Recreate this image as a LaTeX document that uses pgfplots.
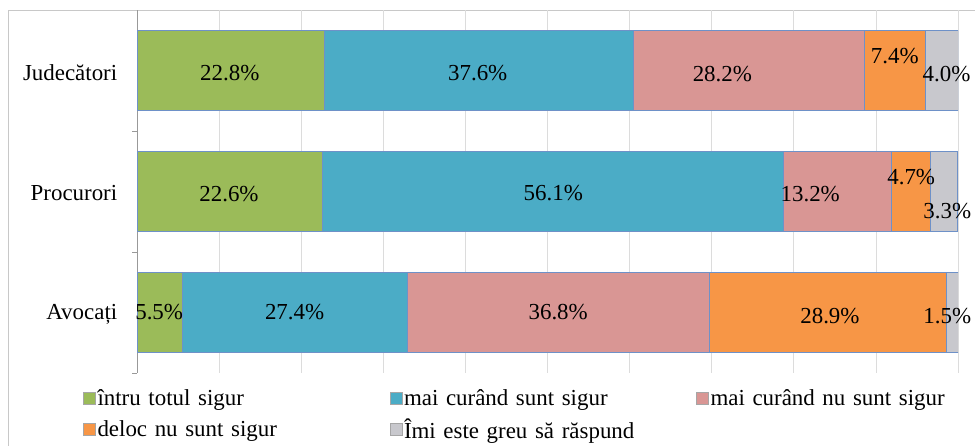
\documentclass[border=0pt]{standalone}
\usepackage{pgfplots}
\pgfplotsset{compat=1.18}
\usepackage{fontspec}
\setmainfont{Liberation Serif}
\definecolor{cgreen}{RGB}{155,187,89}
\definecolor{cblue}{RGB}{75,172,198}
\definecolor{cpink}{RGB}{217,150,148}
\definecolor{corange}{RGB}{247,150,70}
\definecolor{cgray}{RGB}{200,200,205}
\definecolor{cedge}{RGB}{110,145,200}
\definecolor{cgrid}{RGB}{220,220,220}
\definecolor{cframe}{RGB}{200,200,200}
\begin{document}
\begin{tikzpicture}[font=\fontsize{23}{26}\selectfont]
\useasboundingbox (0,0) rectangle (975bp,446bp);
\draw[cframe, line width=0.8bp] (8bp,-30bp) rectangle (1000bp,436bp);
\begin{axis}[
  at={(137bp,73bp)}, anchor=south west,
  scale only axis, width=821bp, height=363bp,
  xbar stacked, bar width=0.66,
  xmin=0, xmax=100, ymin=-0.5, ymax=2.5, y dir=reverse,
  axis lines*=left,
  x axis line style={draw=none},
  y axis line style={draw=gray!80, line width=0.6bp},
  xtick={0,10,...,100}, xticklabels={},
  major x tick style={draw=none},
  xmajorgrids, major grid style={draw=cgrid, line width=0.8bp},
  ytick={0,1,2},
  yticklabels={Judecători,Procurori,Avocați},
  major y tick style={draw=none},
  minor ytick={0.5,1.5,2.5},
  minor y tick style={draw=gray!80, line width=0.6bp},
  minor tick length=5bp,
  tick align=outside,
  yticklabel style={xshift=-12bp, yshift=-2bp},
  every axis plot/.append style={draw=cedge, line width=0.6bp},
  legend columns=3,
  legend cell align=left,
  legend style={draw=none, fill=none, at={(axis description cs:-0.066,-0.04)}, anchor=north west,
    inner sep=0pt, row sep=8bp,
    /tikz/every even column/.append style={text width=290bp, align=left},
    nodes={inner sep=2bp}},
  legend image code/.code={\draw[#1, draw=gray!70, line width=0.5bp] (0bp,-6bp) rectangle (12bp,6bp);},
]
\addplot[fill=cgreen] coordinates {(22.8,0) (22.6,1) (5.5,2)};
\addplot[fill=cblue] coordinates {(37.6,0) (56.1,1) (27.4,2)};
\addplot[fill=cpink] coordinates {(28.2,0) (13.2,1) (36.8,2)};
\addplot[fill=corange] coordinates {(7.4,0) (4.7,1) (28.9,2)};
\addplot[fill=cgray] coordinates {(4.0,0) (3.3,1) (1.5,2)};
\legend{întru totul sigur, mai curând sunt sigur, mai curând nu sunt sigur, deloc nu sunt sigur, Îmi este greu să răspund}
\coordinate (a1) at (axis cs:11.3,0.02);
\coordinate (a2) at (axis cs:41.5,0.02);
\coordinate (a3) at (axis cs:71.3,0.03);
\coordinate (a4) at (axis cs:92.3,-0.12);
\coordinate (a5) at (axis cs:98.6,0.03);
\coordinate (b1) at (axis cs:11.2,1.02);
\coordinate (b2) at (axis cs:50.7,1.01);
\coordinate (b3) at (axis cs:82.0,1.02);
\coordinate (b4) at (axis cs:94.3,0.88);
\coordinate (b5) at (axis cs:98.7,1.16);
\coordinate (c1) at (axis cs:2.7,2.0);
\coordinate (c2) at (axis cs:19.2,2.0);
\coordinate (c3) at (axis cs:51.3,2.0);
\coordinate (c4) at (axis cs:84.4,2.03);
\coordinate (c5) at (axis cs:98.7,2.03);
\end{axis}
\node at (a1) {22.8\%};
\node at (a2) {37.6\%};
\node at (a3) {28.2\%};
\node at (a4) {7.4\%};
\node at (a5) {4.0\%};
\node at (b1) {22.6\%};
\node at (b2) {56.1\%};
\node at (b3) {13.2\%};
\node at (b4) {4.7\%};
\node at (b5) {3.3\%};
\node at (c1) {5.5\%};
\node at (c2) {27.4\%};
\node at (c3) {36.8\%};
\node at (c4) {28.9\%};
\node at (c5) {1.5\%};
\end{tikzpicture}
\end{document}
